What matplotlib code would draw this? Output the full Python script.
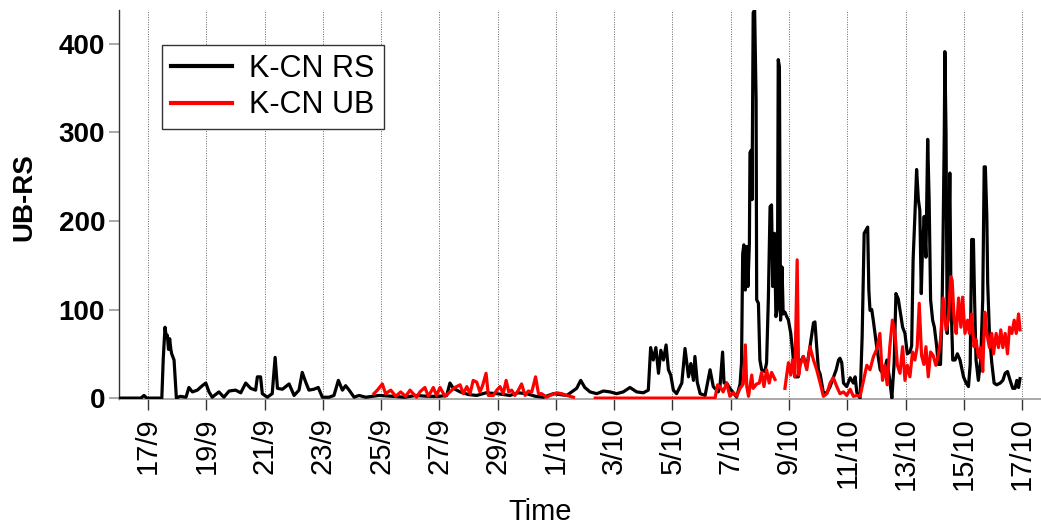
import numpy as np
import matplotlib
matplotlib.use("Agg")
import matplotlib.pyplot as plt

plt.rcParams['font.family'] = ['Liberation Sans', 'DejaVu Sans']

# days since 16/9 00:00
rs_day = [0.0, 0.75, 0.86, 0.95, 1.45, 1.47, 1.52, 1.58, 1.62, 1.66, 1.70, 1.74, 1.78, 1.81, 1.89, 1.95, 1.97,
          2.1, 2.3, 2.40, 2.52, 2.69, 2.86, 2.98, 3.09, 3.20, 3.43, 3.60, 3.78, 4.00, 4.18, 4.35, 4.52, 4.69,
          4.75, 4.86, 4.92, 5.09, 5.26, 5.36, 5.44, 5.61, 5.84, 6.01, 6.18, 6.29, 6.41, 6.52, 6.69, 6.84, 6.98,
          7.21, 7.38, 7.53, 7.67, 7.78, 7.90, 8.07, 8.24, 8.47, 8.70, 8.93, 9.4, 9.8, 10.2, 10.6, 11.0, 11.25,
          11.36, 11.48, 11.71, 12.0, 12.28, 12.6, 12.97, 13.42, 13.7, 13.99, 14.3, 14.57, 14.91, 15.37, 15.71,
          15.85, 15.99, 16.17, 16.40, 16.63, 16.86, 17.08, 17.31, 17.54, 17.77, 18.00, 18.17, 18.25, 18.34,
          18.43, 18.52, 18.60, 18.69, 18.78, 18.86, 18.94, 19.03, 19.14, 19.32, 19.43, 19.55, 19.63, 19.72,
          19.77, 19.85, 19.95, 20.12, 20.29, 20.40, 20.57, 20.63, 20.72, 20.77, 20.86, 20.97, 21.09, 21.20,
          21.32, 21.37, 21.41, 21.45, 21.50, 21.55, 21.59, 21.64, 21.66, 21.71, 21.73, 21.77, 21.82, 21.87,
          21.89, 21.95, 22.00, 22.06, 22.17, 22.23, 22.29, 22.35, 22.40, 22.44, 22.50, 22.55, 22.60, 22.63,
          22.67, 22.71, 22.76, 22.80, 22.86, 22.92, 22.98, 23.06, 23.12, 23.20, 23.32, 23.38, 23.49, 23.61,
          23.72, 23.84, 23.89, 23.95, 24.01, 24.07, 24.18, 24.30, 24.41, 24.52, 24.62, 24.70, 24.75, 24.81,
          24.87, 24.98, 25.10, 25.21, 25.27, 25.33, 25.44, 25.51, 25.58, 25.65, 25.70, 25.74, 25.78, 25.84,
          25.90, 26.01, 26.13, 26.24, 26.36, 26.47, 26.53, 26.61, 26.67, 26.75, 26.83, 26.90, 26.98, 27.06,
          27.15, 27.21, 27.26, 27.32, 27.38, 27.44, 27.49, 27.54, 27.58, 27.64, 27.70, 27.76, 27.81, 27.86,
          27.93, 27.99, 28.07, 28.12, 28.20, 28.25, 28.29, 28.33, 28.35, 28.39, 28.43, 28.49, 28.52, 28.56,
          28.62, 28.70, 28.78, 28.87, 28.99, 29.08, 29.16, 29.22, 29.27, 29.33, 29.37, 29.42, 29.50, 29.58,
          29.65, 29.70, 29.74, 29.79, 29.82, 29.88, 29.96, 30.04, 30.13, 30.25, 30.34, 30.42, 30.50, 30.59,
          30.68, 30.76, 30.82, 30.88, 30.93]
rs_val = [0, 0, 3, 0, 0, 0, 45, 80, 70, 71, 55, 67, 55, 50, 43, 10, 0,
          2, 1, 12, 7, 9, 14, 17, 7, 1, 7, 1, 8, 9, 6, 17, 11, 9,
          24, 24, 5, 1, 5, 46, 11, 10, 16, 3, 9, 29, 18, 9, 10, 12, 1,
          1, 3, 20, 9, 14, 9, 1, 3, 1, 2, 3, 2, 1, 3, 2, 2, 3,
          17, 11, 7, 4, 3, 6, 5, 3, 6, 5, 2, 1, 5, 3, 11,
          20, 12, 7, 5, 8, 7, 5, 7, 12, 7, 6, 9, 57, 43,
          57, 28, 54, 43, 60, 32, 26, 9, 5, 17, 56, 24, 39, 20,
          47, 18, 5, 3, 32, 13, 7, 13, 52, 17, 17, 11, 6, 1,
          16, 40, 163, 173, 122, 171, 126, 175, 277, 280, 224, 435, 438, 337,
          111, 107, 43, 32, 30, 40, 111, 216, 218, 126, 186, 92, 100, 382,
          374, 88, 148, 95, 97, 92, 88, 73, 54, 24, 24, 40, 47, 35,
          58, 85, 86, 58, 32, 27, 6, 6, 13, 23, 32, 43, 45, 40,
          17, 13, 23, 17, 24, 6, 0, 69, 186, 190, 193, 122, 99, 100,
          86, 58, 32, 27, 43, 17, 0, 40, 118, 112, 95, 80, 73, 50,
          52, 59, 156, 205, 258, 224, 212, 118, 167, 205, 159, 292, 224, 111,
          88, 80, 58, 38, 38, 92, 186, 299, 391, 299, 73, 186, 254, 111,
          43, 43, 50, 43, 24, 17, 13, 38, 179, 179, 111, 43, 20, 43,
          111, 261, 261, 205, 130, 73, 40, 17, 15, 17, 20, 28, 30, 20,
          11, 11, 20, 12, 22]

ub_day = [8.75, 8.87, 9.04, 9.15, 9.33, 9.50, 9.67, 9.84, 9.99, 10.10, 10.22, 10.33, 10.50, 10.62, 10.79,
          10.9, 11.02, 11.19, 11.36, 11.53, 11.71, 11.82, 11.94, 12.05, 12.16, 12.28, 12.39, 12.48, 12.60,
          12.68, 12.85, 12.97, 13.08, 13.19, 13.29, 13.38, 13.48, 13.59, 13.71, 13.82, 13.94, 14.05, 14.17,
          14.30, 14.40, 14.51, 14.68, 14.80, 15.02, 15.20, 15.37, 15.60, 15.65, 16.35, 20.46, 20.55, 20.63,
          20.74, 20.86, 20.97, 21.09, 21.20, 21.32, 21.43, 21.50, 21.55, 21.61, 21.72, 21.77, 21.89, 21.98,
          22.06, 22.14, 22.23, 22.32, 22.40, 22.52, 22.55, 22.86, 22.92, 22.98, 23.06, 23.12, 23.20, 23.28,
          23.33, 23.38, 23.49, 23.61, 23.72, 23.84, 23.95, 24.07, 24.18, 24.30, 24.41, 24.52, 24.64, 24.75,
          24.87, 24.98, 25.10, 25.21, 25.33, 25.44, 25.67, 25.78, 25.90, 26.01, 26.12, 26.21, 26.29, 26.37,
          26.46, 26.55, 26.64, 26.72, 26.81, 26.90, 26.98, 27.06, 27.15, 27.24, 27.32, 27.40, 27.47, 27.55,
          27.63, 27.70, 27.78, 27.86, 27.95, 28.04, 28.12, 28.20, 28.29, 28.39, 28.47, 28.55, 28.60, 28.67,
          28.74, 28.82, 28.90, 28.96, 29.04, 29.13, 29.19, 29.27, 29.35, 29.42, 29.50, 29.58, 29.65, 29.72,
          29.79, 29.88, 29.96, 30.02, 30.11, 30.19, 30.27, 30.34, 30.42, 30.50, 30.57, 30.65, 30.73, 30.80,
          30.88, 30.93]
ub_val = [5, 9, 16, 5, 9, 2, 7, 2, 9, 5, 1, 7, 12, 2, 12,
          3, 12, 2, 7, 12, 15, 5, 13, 5, 20, 18, 7, 14, 28,
          3, 3, 9, 13, 5, 20, 7, 9, 3, 9, 16, 3, 8, 7,
          24, 5, 5, 1, 3, 6, 5, 3, 1, np.nan, 0, 0, 15, 13,
          7, 17, 2, 6, 2, 11, 16, 60, 13, 2, 26, 11, 16, 17,
          29, 13, 32, 17, 29, 21, np.nan, 11, 26, 40, 26, 43, 24, 156,
          26, 37, 47, 32, 58, 43, 32, 17, 2, 5, 17, 23, 13, 5,
          7, 3, 10, 2, 3, 2, 37, 32, 47, 55, 73, 20, 37, 15,
          58, 88, 73, 37, 28, 58, 20, 37, 24, 52, 43, 58, 107, 48,
          38, 58, 24, 52, 48, 37, 48, 65, 113, 77, 88, 137, 133, 88,
          73, 113, 80, 114, 73, 88, 73, 95, 58, 66, 46, 57, 30, 97,
          73, 57, 73, 50, 73, 57, 77, 57, 73, 50, 80, 73, 88, 73,
          95, 77]

tick_days = [1, 3, 5, 7, 9, 11, 13, 15, 17, 19, 21, 23, 25, 27, 29, 31]
tick_labels = ['17/9', '19/9', '21/9', '23/9', '25/9', '27/9', '29/9', '1/10',
               '3/10', '5/10', '7/10', '9/10', '11/10', '13/10', '15/10', '17/10']

fig = plt.figure(figsize=(10.41, 5.27), dpi=100)
ax = fig.add_axes([0.1143, 0.2429, 0.8857, 0.7381])

ax.plot(rs_day, rs_val, color='black', lw=2.3, label='K-CN RS', zorder=3)
ax.plot(ub_day, ub_val, color='red', lw=2.3, label='K-CN UB', zorder=4)

ax.set_xlim(0, 31.65)
ax.set_ylim(-1, 438)
ax.set_xticks(tick_days)
ax.set_xticklabels(tick_labels, rotation=90, fontsize=21)
ax.set_yticks([0, 100, 200, 300, 400])
ax.set_yticklabels(['0', '100', '200', '300', '400'], fontsize=20, fontweight='bold')

for d in tick_days:
    ax.axvline(d, color='#666666', lw=0.7, ls=(0, (1, 1.5)), zorder=1)

for s in ['top', 'right']:
    ax.spines[s].set_visible(False)
ax.spines['left'].set_color('#333333')
ax.spines['left'].set_linewidth(1)
ax.spines['bottom'].set_color('#999999')
ax.spines['bottom'].set_linewidth(1.2)
ax.tick_params(axis='x', length=8, width=1, color='#333333', pad=5)
ax.tick_params(axis='y', length=7, width=1.2, color='#999999', pad=3)

ax.set_xlabel('Time', fontsize=21)
ax.xaxis.set_label_coords(0.4566, -0.255)
ax.set_ylabel('UB-RS', fontsize=20, fontweight='bold')
ax.yaxis.set_label_coords(-0.088, 0.519)

leg = ax.legend(loc='upper left', bbox_to_anchor=(0.0466, 0.91), borderaxespad=0,
                fontsize=22, handlelength=2.0, handletextpad=0.55, borderpad=0.3,
                labelspacing=0.2, fancybox=False, framealpha=1)
leg.get_frame().set_edgecolor('#333333')
leg.get_frame().set_linewidth(1)
for line in leg.get_lines():
    line.set_linewidth(3)

fig.savefig('out.png', dpi=100)
